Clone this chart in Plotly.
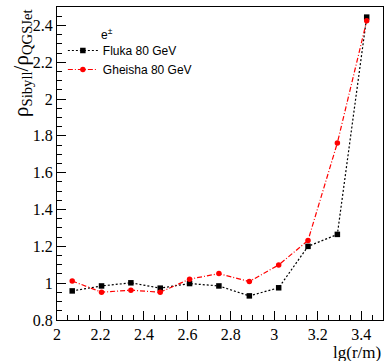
import plotly.graph_objects as go

x_vals = [2.07, 2.205, 2.34, 2.475, 2.61, 2.745, 2.885, 3.02, 3.155, 3.29, 3.425]
fluka = [0.958, 0.985, 1.002, 0.973, 0.998, 0.985, 0.931, 0.975, 1.20, 1.265, 2.445]
gheisha = [1.012, 0.951, 0.962, 0.951, 1.022, 1.052, 1.009, 1.099, 1.232, 1.762, 2.425]
x_ticks = [2, 2.2, 2.4, 2.6, 2.8, 3, 3.2, 3.4]
y_ticks = [0.8, 1, 1.2, 1.4, 1.6, 1.8, 2, 2.2, 2.4]

serif = "Liberation Serif"
sans = "Liberation Sans"

fig = go.Figure()
fig.add_trace(go.Scatter(
    x=x_vals, y=fluka, mode="lines+markers", name="Fluka 80 GeV",
    line=dict(color="black", width=1.2, dash="2px,2px"),
    marker=dict(symbol="square", size=5.5, color="black"),
))
fig.add_trace(go.Scatter(
    x=x_vals, y=gheisha, mode="lines+markers", name="Gheisha 80 GeV",
    line=dict(color="#ff0000", width=1.2, dash="5px,2px,1px,2px"),
    marker=dict(symbol="circle", size=5.5, color="#ff0000"),
))

W, H = 384, 361
ml, mr, mt, mb = 57, 1, 7, 41
PW, PH = W - ml - mr, H - mt - mb

axis_common = dict(
    showline=True, linecolor="black", linewidth=1, mirror=True,
    ticks="inside", ticklen=9, tickcolor="black", tickwidth=1,
    showgrid=False, zeroline=False,
    tickfont=dict(family=serif, size=16, color="black"),
    minor=dict(ticks="inside", ticklen=5, dtick=0.05, tickcolor="black", tickwidth=1, showgrid=False),
)

fig.update_layout(
    width=W, height=H,
    margin=dict(l=ml, r=mr, t=mt, b=mb),
    paper_bgcolor="white", plot_bgcolor="white",
    showlegend=True,
    legend=dict(
        x=0.018, y=1 - (36 - mt) / PH, xanchor="left", yanchor="top",
        bgcolor="rgba(0,0,0,0)",
        font=dict(family=sans, size=12, color="black"),
        itemwidth=30, tracegroupgap=0,
    ),
    xaxis=dict(range=[2, 3.5], tickvals=x_ticks, ticktext=[f"{v:g}" for v in x_ticks], **axis_common),
    yaxis=dict(range=[0.8, 2.5], tickvals=y_ticks, ticktext=[f"{v:g}" for v in y_ticks], **axis_common),
)

fig.add_annotation(
    text="lg(r/m)", xref="paper", yref="paper", x=1.0, y=-(352 - 320) / PH,
    xanchor="right", yanchor="middle", showarrow=False,
    font=dict(family=serif, size=17, color="black"),
)
fig.add_annotation(
    text="ρ<sub>Sibyll</sub>/ρ<sub>QGSJet</sub>", xref="paper", yref="paper",
    x=-(ml - 22) / PW, y=1.0, xanchor="center", yanchor="top",
    textangle=-90, showarrow=False,
    font=dict(family=serif, size=21, color="black"),
)
fig.add_annotation(
    text="e<sup>±</sup>", xref="paper", yref="paper",
    x=(99 - ml) / PW, y=1 - (24 - mt) / PH,
    xanchor="left", yanchor="top", showarrow=False,
    font=dict(family=sans, size=12, color="black"),
)

fig.write_html("out.html")
